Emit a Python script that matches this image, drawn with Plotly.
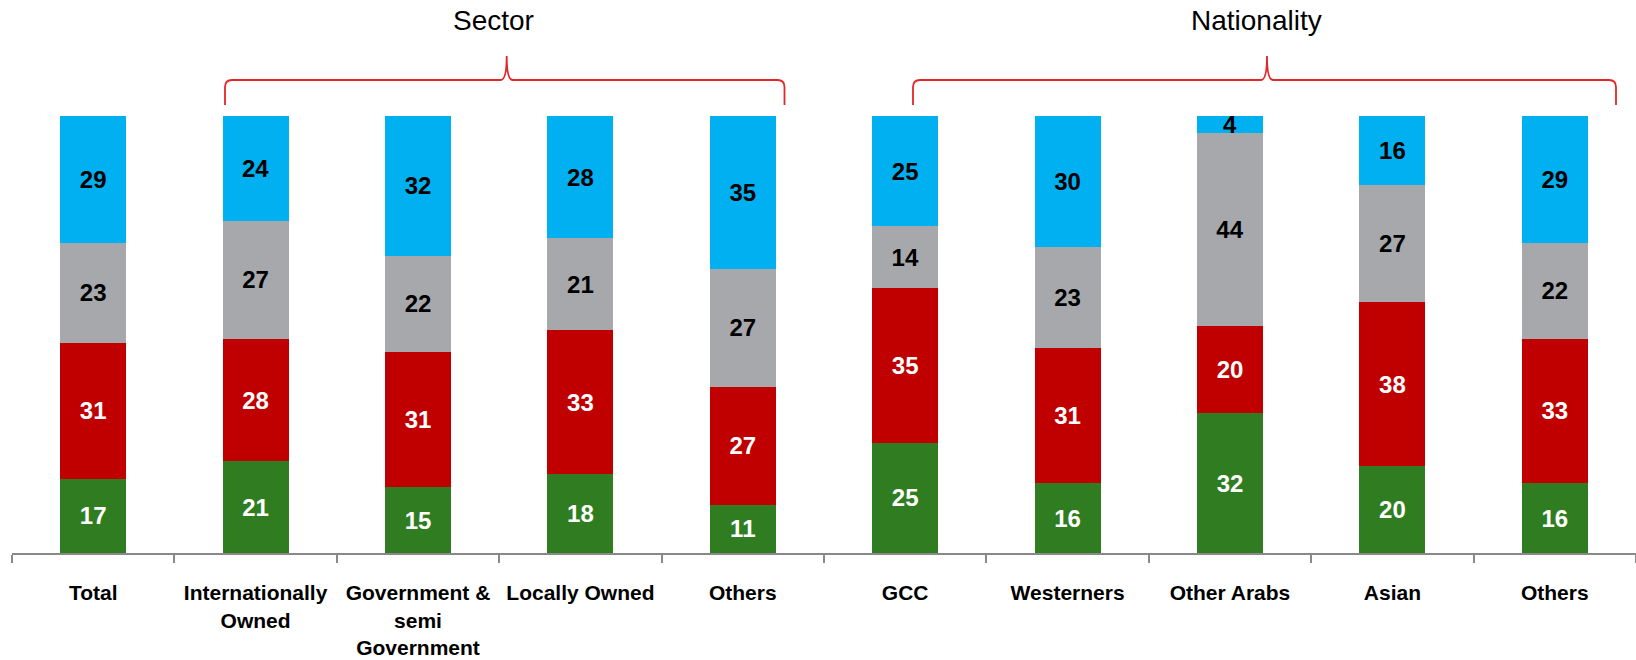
import plotly.graph_objects as go

categories = ["Total", "Internationally<br>Owned", "Government &<br>semi<br>Government",
              "Locally Owned", "Others", "GCC", "Westerners", "Other Arabs", "Asian", "Others"]
green_vals = [17, 21, 15, 18, 11, 25, 16, 32, 20, 16]
red_vals = [31, 28, 31, 33, 27, 35, 31, 20, 38, 33]
grey_vals = [23, 27, 22, 21, 27, 14, 23, 44, 27, 22]
blue_vals = [29, 24, 32, 28, 35, 25, 30, 4, 16, 29]
group_labels = ["Sector", "Nationality"]

series = [
    (green_vals, "#2F7D20", "white"),
    (red_vals, "#C00000", "white"),
    (grey_vals, "#A7A8AC", "black"),
    (blue_vals, "#00B0F0", "black"),
]

x = list(range(len(categories)))
FONT = "Liberation Sans, Arial, sans-serif"

fig = go.Figure()
for vals, color, tcol in series:
    fig.add_trace(go.Bar(
        x=x, y=vals, width=0.406, marker=dict(color=color, line=dict(width=0)),
        text=[str(v) for v in vals], textposition="inside", insidetextanchor="middle",
        textangle=0, constraintext="none",
        textfont=dict(family=FONT, size=24, color=tcol, weight="bold"),
        hoverinfo="skip", showlegend=False,
    ))

# pixel geometry helpers (page pixels -> paper coords) for decorative braces
L_PX, W_PX, B_PX, H_PX = 12, 1624, 553, 437
def px(xp):
    return (xp - L_PX) / W_PX
def py(yp):
    return (B_PX - yp) / H_PX

def brace(left, tip, right, y_h=80, y_tip=56, y_end=105, r=7):
    pts = [
        f"M {px(left)},{py(y_end)}",
        f"L {px(left)},{py(y_h + r)}",
        f"Q {px(left)},{py(y_h)} {px(left + r)},{py(y_h)}",
        f"L {px(tip - 6)},{py(y_h)}",
        f"Q {px(tip)},{py(y_h)} {px(tip)},{py(y_tip)}",
        f"Q {px(tip)},{py(y_h)} {px(tip + 6)},{py(y_h)}",
        f"L {px(right - r)},{py(y_h)}",
        f"Q {px(right)},{py(y_h)} {px(right)},{py(y_h + r)}",
        f"L {px(right)},{py(y_end)}",
    ]
    return " ".join(pts)

shapes = [
    dict(type="path", xref="paper", yref="paper", path=brace(225, 506.7, 784.5),
         line=dict(color="#E3262A", width=1.8)),
    dict(type="path", xref="paper", yref="paper", path=brace(913, 1267, 1616),
         line=dict(color="#E3262A", width=1.8)),
]

annotations = [
    dict(text=group_labels[0], xref="paper", yref="paper", x=px(493.7), y=py(20),
         showarrow=False, xanchor="center", yanchor="middle",
         font=dict(family=FONT, size=28, color="black")),
    dict(text=group_labels[1], xref="paper", yref="paper", x=px(1256.5), y=py(20),
         showarrow=False, xanchor="center", yanchor="middle",
         font=dict(family=FONT, size=28, color="black")),
]

fig.update_layout(
    barmode="stack", barnorm="percent",
    width=1636, height=660,
    margin=dict(l=12, r=0, t=116, b=107, pad=0, autoexpand=False),
    plot_bgcolor="white", paper_bgcolor="white",
    shapes=shapes, annotations=annotations,
    xaxis=dict(
        range=[-0.5, 9.5], tickmode="array", tickvals=x, ticktext=categories,
        ticks="", showgrid=False, zeroline=False, automargin=False,
        showline=True, linecolor="#898989", linewidth=2,
        tickfont=dict(family=FONT, size=21, color="black", weight="bold"),
        ticklabelstandoff=20,
        minor=dict(tick0=-0.5, dtick=1, ticks="outside", ticklen=8,
                   tickcolor="#898989", tickwidth=1.5, showgrid=False),
    ),
    yaxis=dict(range=[0, 100], visible=False, showgrid=False, zeroline=False,
               automargin=False),
)

fig.write_html("out.html", config={"displayModeBar": False},
               post_script="document.body.style.margin='0';")
